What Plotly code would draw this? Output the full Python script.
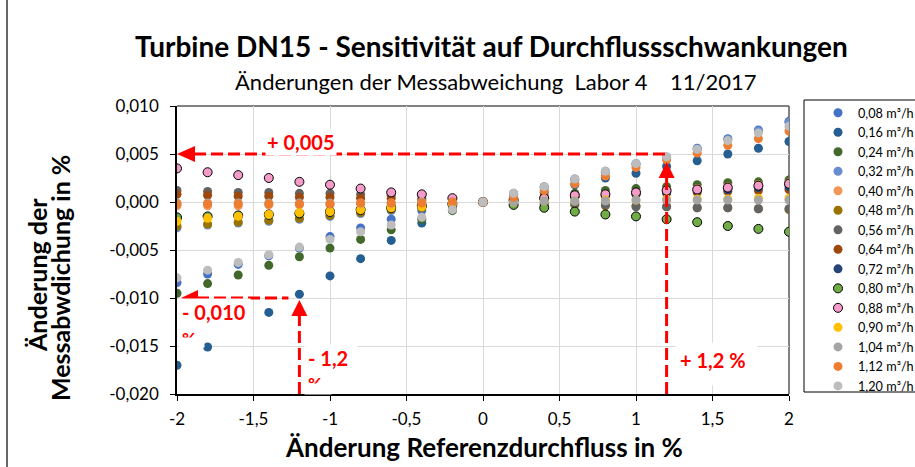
import plotly.graph_objects as go

# Relative change of flow rate (%)
x_vals = [-2.0, -1.8, -1.6, -1.4, -1.2, -1.0, -0.8, -0.6, -0.4, -0.2, 0.0,
          0.2, 0.4, 0.6, 0.8, 1.0, 1.2, 1.4, 1.6, 1.8, 2.0]

series_names = ["0,08 m³/h", "0,16 m³/h", "0,24 m³/h", "0,32 m³/h", "0,40 m³/h",
                "0,48 m³/h", "0,56 m³/h", "0,64 m³/h", "0,72 m³/h", "0,80 m³/h",
                "0,88 m³/h", "0,90 m³/h", "1,04 m³/h", "1,12 m³/h", "1,20 m³/h"]

# Change of measurement error (%) per flow rate
q008 = [-0.0084, -0.0075, -0.0065, -0.0056, -0.0048, -0.0036, -0.0027, -0.0018, -0.0009, -0.0005, 0.0,
        0.0009, 0.0016, 0.0024, 0.0032, 0.0040, 0.0047, 0.0056, 0.0066, 0.0075, 0.0084]
q016 = [-0.0170, -0.0151, -0.0133, -0.0115, -0.0096, -0.0077, -0.0059, -0.0040, -0.0022, -0.0008, 0.0,
        0.0004, 0.0010, 0.0018, 0.0025, 0.0030, 0.0037, 0.0043, 0.0050, 0.0056, 0.0063]
q024 = [-0.0095, -0.0085, -0.0076, -0.0066, -0.0057, -0.0048, -0.0039, -0.0029, -0.0018, -0.0009, 0.0,
        0.0003, 0.0006, 0.0009, 0.0012, 0.0014, 0.0016, 0.0018, 0.0020, 0.0021, 0.0023]
q032 = [-0.0027, -0.0024, -0.0022, -0.0020, -0.0018, -0.0015, -0.0012, -0.0009, -0.0006, -0.0003, 0.0,
        0.0008, 0.0015, 0.0023, 0.0031, 0.0039, 0.0046, 0.0055, 0.0065, 0.0074, 0.0083]
q040 = [-0.0004, -0.0004, -0.0004, -0.0003, -0.0003, -0.0003, -0.0002, -0.0002, -0.0001, -0.0001, 0.0,
        0.0001, 0.0004, 0.0006, 0.0008, 0.0010, 0.0012, 0.0014, 0.0016, 0.0018, 0.0020]
q048 = [-0.0025, -0.0023, -0.0021, -0.0019, -0.0017, -0.0014, -0.0011, -0.0008, -0.0006, -0.0003, 0.0,
        -0.0001, -0.0002, -0.0003, -0.0004, -0.0004, -0.0005, -0.0006, -0.0006, -0.0007, -0.0008]
q056 = [0.0012, 0.0011, 0.0010, 0.0010, 0.0009, 0.0009, 0.0008, 0.0007, 0.0004, 0.0002, 0.0,
        -0.0001, -0.0002, -0.0002, -0.0003, -0.0005, -0.0005, -0.0006, -0.0006, -0.0007, -0.0007]
q064 = [0.0008, 0.0007, 0.0006, 0.0006, 0.0005, 0.0005, 0.0004, 0.0004, 0.0002, 0.0001, 0.0,
        0.0001, 0.0003, 0.0005, 0.0006, 0.0008, 0.0009, 0.0010, 0.0011, 0.0012, 0.0013]
q072 = [-0.0017, -0.0016, -0.0015, -0.0014, -0.0012, -0.0011, -0.0009, -0.0007, -0.0005, -0.0002, 0.0,
        0.0001, 0.0003, 0.0005, 0.0007, 0.0008, 0.0010, 0.0012, 0.0013, 0.0015, 0.0016]
q080 = [-0.0016, -0.0015, -0.0014, -0.0013, -0.0012, -0.0010, -0.0008, -0.0006, -0.0004, -0.0002, 0.0,
        -0.0003, -0.0006, -0.0010, -0.0013, -0.0015, -0.0018, -0.0021, -0.0025, -0.0028, -0.0031]
q088 = [0.0035, 0.0031, 0.0028, 0.0025, 0.0021, 0.0018, 0.0014, 0.0010, 0.0008, 0.0004, 0.0,
        0.0002, 0.0004, 0.0007, 0.0008, 0.0010, 0.0012, 0.0013, 0.0015, 0.0017, 0.0019]
q090 = [-0.0020, -0.0017, -0.0015, -0.0013, -0.0011, -0.0010, -0.0008, -0.0006, -0.0005, -0.0002, 0.0,
        0.0000, 0.0001, 0.0001, 0.0002, 0.0002, 0.0003, 0.0003, 0.0003, 0.0004, 0.0004]
q104 = [-0.0001, -0.0001, -0.0001, -0.0001, -0.0001, -0.0001, -0.0001, -0.0001, 0.0000, 0.0000, 0.0,
        0.0000, 0.0001, 0.0001, 0.0001, 0.0002, 0.0002, 0.0002, 0.0002, 0.0002, 0.0002]
q112 = [-0.0002, -0.0002, -0.0002, -0.0002, -0.0002, -0.0002, -0.0001, -0.0001, -0.0001, 0.0000, 0.0,
        0.0005, 0.0012, 0.0019, 0.0027, 0.0036, 0.0044, 0.0051, 0.0059, 0.0066, 0.0074]
q120 = [-0.0079, -0.0071, -0.0063, -0.0055, -0.0047, -0.0039, -0.0031, -0.0024, -0.0016, -0.0008, 0.0,
        0.0009, 0.0016, 0.0024, 0.0032, 0.0040, 0.0047, 0.0055, 0.0064, 0.0072, 0.0079]

series_values = [q008, q016, q024, q032, q040, q048, q056, q064, q072, q080,
                 q088, q090, q104, q112, q120]

colors = ["#4472C4", "#255E91", "#43682B", "#698ED0", "#F1975A",
          "#997300", "#636363", "#9E480E", "#264478", "#70AD47",
          "#F59BC9", "#FFC000", "#A5A5A5", "#ED7D31", "#BDBDBD"]
outlined = {"0,80 m³/h", "0,88 m³/h"}

x_tick_vals = [-2, -1.5, -1, -0.5, 0, 0.5, 1, 1.5, 2]
x_tick_text = ["-2", "-1,5", "-1", "-0,5", "0", "0,5", "1", "1,5", "2"]
y_tick_vals = [-0.020, -0.015, -0.010, -0.005, 0.0, 0.005, 0.010]
y_tick_text = ["-0,020", "-0,015", "-0,010", "-0,005", "0,000", "0,005", "0,010"]

# Highlighted readings
sens_pos, sens_neg = 0.005, -0.010
flow_pos, flow_neg = 1.2, -1.2

# Figure geometry (pixels)
W, H = 915, 467
PL, PR, PT, PB = 177, 789, 106, 394
XMIN, XMAX, YMIN, YMAX = -2.0, 2.0, -0.020, 0.010
X_PER_PX = (XMAX - XMIN) / (PR - PL)
Y_PER_PX = (YMAX - YMIN) / (PB - PT)


def paper_x(px):
    return (px - PL) / (PR - PL)


def paper_y(py):
    return (PB - py) / (PB - PT)


FONT = "Lato, Carlito, Calibri, sans-serif"
RED = "#FF0000"

fig = go.Figure()
for name, vals, col in zip(series_names, series_values, colors):
    edge = dict(color="#000000", width=1) if name in outlined else dict(color=col, width=0)
    fig.add_trace(go.Scatter(
        x=x_vals, y=vals, mode="markers", name=name,
        marker=dict(size=9, color=col, line=edge),
    ))

dash = dict(color=RED, width=3, dash="12px,5px")
shapes = [
    # plot frame (top / right)
    dict(type="line", xref="paper", yref="paper", x0=0, x1=1, y0=1, y1=1,
         line=dict(color="#595959", width=1.5), layer="below"),
    dict(type="line", xref="paper", yref="paper", x0=1, x1=1, y0=0, y1=1,
         line=dict(color="#595959", width=1.5), layer="below"),
    # outer chart border
    dict(type="line", xref="paper", yref="paper", x0=paper_x(7), x1=paper_x(7),
         y0=paper_y(H), y1=paper_y(0), line=dict(color="#000000", width=1.2)),
    # legend frame
    dict(type="rect", xref="paper", yref="paper", x0=paper_x(804), x1=paper_x(930),
         y0=paper_y(392), y1=paper_y(100), line=dict(color="#000000", width=1),
         fillcolor="#FFFFFF", layer="below"),
    # +0,005 arrow
    dict(type="line", xref="x", yref="y", x0=XMIN + 17 * X_PER_PX, x1=flow_pos,
         y0=sens_pos, y1=sens_pos, line=dash),
    dict(type="path", xref="x", yref="y", xsizemode="pixel", ysizemode="pixel",
         xanchor=XMIN, yanchor=sens_pos, path="M0,0 L18,8 L18,-8 Z",
         fillcolor=RED, line=dict(width=0)),
    # +1,2 % arrow
    dict(type="line", xref="x", yref="y", x0=flow_pos, x1=flow_pos,
         y0=YMIN, y1=sens_pos - 22 * Y_PER_PX, line=dash),
    dict(type="path", xref="x", yref="y", xsizemode="pixel", ysizemode="pixel",
         xanchor=flow_pos, yanchor=sens_pos, path="M0,-8 L-8,-24 L8,-24 Z",
         fillcolor=RED, line=dict(width=0)),
    # -0,010 arrow
    dict(type="line", xref="x", yref="y", x0=XMIN + 20 * X_PER_PX, x1=flow_neg - 11 * X_PER_PX,
         y0=sens_neg, y1=sens_neg, line=dash),
    dict(type="path", xref="x", yref="y", xsizemode="pixel", ysizemode="pixel",
         xanchor=XMIN, yanchor=sens_neg, path="M4,0 L21,8 L21,-8 Z",
         fillcolor=RED, line=dict(width=0)),
    # -1,2 % arrow
    dict(type="line", xref="x", yref="y", x0=flow_neg, x1=flow_neg,
         y0=YMIN, y1=sens_neg - 16 * Y_PER_PX, line=dash),
    dict(type="path", xref="x", yref="y", xsizemode="pixel", ysizemode="pixel",
         xanchor=flow_neg, yanchor=sens_neg, path="M0,-2 L-8,-18 L8,-18 Z",
         fillcolor=RED, line=dict(width=0)),
]

red_bold = dict(family=FONT, size=20, color=RED)


def label(cx, cy, text, font, xanchor="center", **kw):
    return dict(xref="paper", yref="paper", x=paper_x(cx), y=paper_y(cy),
                xanchor=xanchor, yanchor="middle", text=text, showarrow=False,
                font=font, **kw)


def box(cx, cy, w, h):
    return dict(xref="paper", yref="paper", x=paper_x(cx), y=paper_y(cy),
                xanchor="center", yanchor="middle", text=" ",
                showarrow=False, width=w, height=h, bgcolor="#FFFFFF", borderpad=0,
                font=dict(size=4))


annotations = [
    label(492, 46, "<b>Turbine DN15 - Sensitivität auf Durchflussschwankungen</b>",
          dict(family=FONT, size=28, color="#000000")),
    label(495, 81, "Änderungen der Messabweichung  Labor 4    11/2017",
          dict(family=FONT, size=22, color="#000000")),
    label(484, 447, "<b>Änderung Referenzdurchfluss in %</b>",
          dict(family=FONT, size=26, color="#000000")),
    label(37, 275, "<b>Änderung der</b>", dict(family=FONT, size=25, color="#000000"),
          textangle=-90),
    label(60, 278, "<b>Messabwdichung in %</b>", dict(family=FONT, size=25, color="#000000"),
          textangle=-90),
    # value labels (text boxes cut off at their lower edge)
    label(301, 142, "<b>+ 0,005</b>", red_bold, bgcolor="#FFFFFF", borderpad=1),
    box(214, 318, 72, 38),
    label(180, 312, "<b>- 0,010</b>", red_bold, xanchor="left"),
    label(180, 338, "<b>%</b>", dict(family=FONT, size=17, color=RED), xanchor="left"),
    box(192, 342, 24, 9),
    box(331, 364, 52, 38),
    label(306, 358, "<b>- 1,2</b>", red_bold, xanchor="left"),
    label(306, 383, "<b>%</b>", dict(family=FONT, size=17, color=RED), xanchor="left"),
    box(318, 388.5, 26, 10),
    box(716, 364, 81, 42),
    label(713, 360, "<b>+ 1,2 %</b>", red_bold),
]

axis_font = dict(family=FONT, size=17, color="#000000")
fig.update_layout(
    width=W, height=H, autosize=False,
    margin=dict(l=PL, r=W - PR, t=PT, b=H - PB, pad=0, autoexpand=False),
    paper_bgcolor="#FFFFFF", plot_bgcolor="#FFFFFF",
    font=dict(family=FONT, color="#000000"),
    xaxis=dict(range=[XMIN, XMAX], tickvals=x_tick_vals, ticktext=x_tick_text,
               showgrid=True, gridcolor="#D9D9D9", gridwidth=1, zeroline=False,
               showline=True, linecolor="#000000", linewidth=1.5,
               ticks="outside", ticklen=5, tickcolor="#000000", tickwidth=1.2,
               ticklabelstandoff=4, tickfont=axis_font),
    yaxis=dict(range=[YMIN, YMAX], tickvals=y_tick_vals, ticktext=y_tick_text,
               showgrid=True, gridcolor="#D9D9D9", gridwidth=1, zeroline=False,
               showline=True, linecolor="#000000", linewidth=1.5,
               ticks="outside", ticklen=5, tickcolor="#000000", tickwidth=1.2,
               ticklabelstandoff=8, tickfont=axis_font),
    legend=dict(x=paper_x(818), y=paper_y(98), xanchor="left", yanchor="top",
                borderwidth=0, bgcolor="rgba(0,0,0,0)", maxheight=420,
                font=dict(family=FONT, size=12.7, color="#000000"),
                itemwidth=30, tracegroupgap=0),
    shapes=shapes,
    annotations=annotations,
    showlegend=True,
)

fig.write_html("out.html")
